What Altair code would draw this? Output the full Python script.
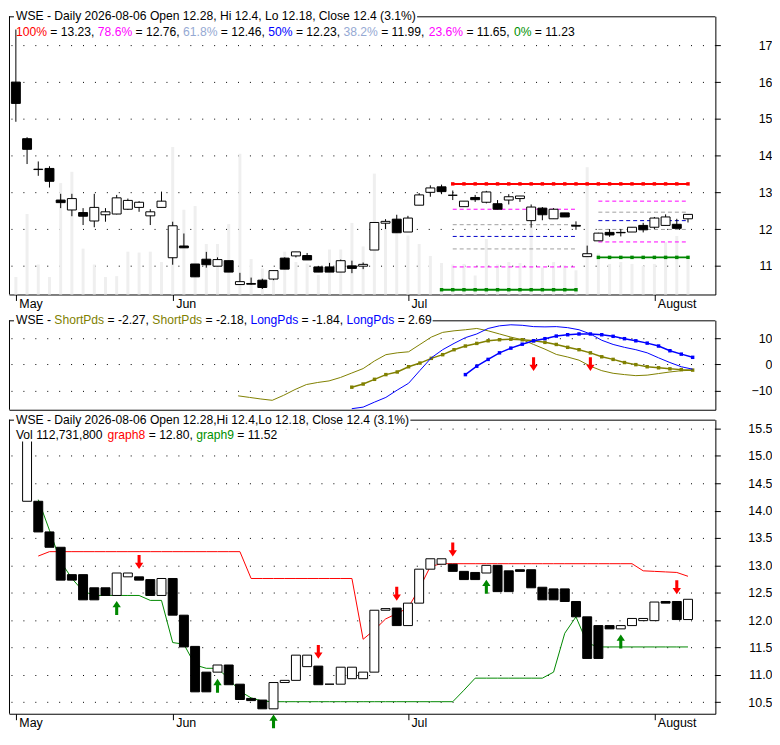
import altair as alt
import pandas as pd

# ------------------------------------------------------------------ data
bar_index = list(range(61))
month_tick_bars = [0, 14, 35, 57]
month_names = ["May", "Jun", "Jul", "August"]

price_open = [16.00, 14.46, 13.63, 13.65, 12.79, 12.52, 12.45, 12.22, 12.39, 12.41,
              12.54, 12.59, 12.36, 12.59, 11.22, 11.54, 11.05, 11.18, 10.99, 11.14,
              10.49, 10.52, 10.61, 10.64, 11.21, 11.27, 11.28, 10.97, 10.97, 10.83,
              11.00, 10.99, 11.43, 12.16, 12.27, 11.92, 12.65, 13.00, 13.15, 12.92,
              12.61, 12.86, 12.73, 12.69, 12.79, 12.83, 12.23, 12.57, 12.28, 12.44,
              12.10, 11.25, 11.68, 11.91, 11.91, 11.92, 12.10, 12.05, 12.10, 12.13,
              12.28]
price_high = [17.43, 14.50, 13.84, 13.71, 12.96, 12.96, 12.57, 12.96, 12.57, 12.93,
              12.83, 12.76, 12.54, 13.02, 12.20, 11.88, 11.05, 11.38, 11.23, 11.14,
              10.81, 10.68, 10.65, 10.87, 11.23, 11.38, 11.35, 11.00, 11.08, 11.17,
              11.14, 11.09, 12.18, 12.27, 12.39, 12.36, 12.98, 13.19, 13.21, 13.05,
              12.76, 12.93, 13.04, 12.79, 12.95, 12.90, 12.67, 12.60, 12.57, 12.44,
              12.21, 11.55, 11.90, 12.00, 12.00, 12.05, 12.17, 12.33, 12.40, 12.28,
              12.40]
price_low = [14.92, 13.77, 13.45, 13.13, 12.57, 12.35, 12.11, 12.05, 12.20, 12.40,
             12.52, 12.47, 12.11, 12.59, 11.03, 11.49, 10.70, 10.95, 10.99, 10.83,
             10.49, 10.49, 10.37, 10.61, 10.91, 11.23, 11.16, 10.83, 10.83, 10.83,
             10.80, 10.91, 11.43, 12.00, 11.90, 11.92, 12.65, 12.88, 12.95, 12.79,
             12.61, 12.74, 12.70, 12.54, 12.67, 12.74, 12.04, 12.24, 12.28, 12.33,
             11.98, 11.25, 11.68, 11.79, 11.80, 11.92, 11.91, 12.00, 12.10, 12.02,
             12.18]
price_close = [15.42, 14.17, 13.62, 13.30, 12.72, 12.83, 12.35, 12.59, 12.47, 12.85,
               12.78, 12.73, 12.47, 12.76, 12.09, 11.49, 10.70, 11.03, 11.17, 10.83,
               10.57, 10.50, 10.41, 10.87, 10.91, 11.38, 11.16, 10.83, 10.83, 11.14,
               10.93, 11.04, 12.18, 12.21, 11.90, 12.30, 12.93, 13.12, 13.02, 12.92,
               12.76, 12.80, 13.01, 12.54, 12.88, 12.90, 12.60, 12.39, 12.54, 12.33,
               12.08, 11.33, 11.89, 11.84, 11.90, 12.05, 11.98, 12.30, 12.33, 12.02,
               12.40]
volume_m = [57, 263, 98, 57, 364, 401, 150, 98, 57, 60,
            140, 137, 140, 106, 482, 277, 289, 165, 165, 230,
            460, 116, 85, 47, 140, 106, 101, 64, 147, 147,
            234, 157, 395, 233, 202, 193, 165, 126, 103, 98,
            100, 62, 181, 98, 106, 103, 222, 88, 106, 96,
            79, 416, 134, 100, 106, 100, 93, 100, 171, 191,
            112.73]

fib_pcts = ["78.6%", "61.8%", "50%", "38.2%", "23.6%"]
fib_first_levels = [12.54, 12.12, 11.80, 11.46, 10.97]
fib_second_levels = [12.76, 12.46, 12.23, 11.99, 11.65]
fib_first_span = [39, 50]
fib_second_span = [52, 60]
fib_top_level = 13.23
fib_top_span = [39, 60]
fib_bottom_levels = [10.35, 11.23]
fib_bottom_spans = [[38, 50], [52, 60]]

osc_short_a = [None] * 20 + [
    -12.0, -12.6, -13.2, -13.7, -11.8, -9.6, -7.7, -6.9, -6.3, -5.0,
    -3.3, -1.6, 1.3, 3.7, 4.4, 4.8, 7.6, 10.4, 12.2, 12.8,
    13.2, 13.7, 12.8, 11.6, 10.4, 9.4, 7.6, 5.8, 3.8, 2.8,
    1.6, -0.7, -2.4, -3.4, -3.9, -4.3, -4.1, -3.5, -2.9, -2.4,
    -2.27]
osc_short_b = [None] * 30 + [
    -8.7, -7.5, -5.7, -3.9, -2.9, -0.9, 0.5, 2.3, 3.7, 5.6,
    7.0, 8.0, 9.0, 9.4, 9.6, 9.4, 9.0, 8.4, 7.6, 6.5,
    5.6, 4.4, 2.9, 1.9, 0.7, -0.1, -0.9, -1.3, -1.7, -2.0,
    -2.18]
osc_long_a = [None] * 30 + [
    -16.9, -16.3, -14.4, -12.6, -9.8, -7.2, -2.3, 2.5, 5.6, 8.0,
    10.2, 11.6, 13.7, 14.7, 15.1, 14.9, 14.4, 14.3, 14.4, 14.0,
    13.2, 11.6, 9.2, 7.6, 6.5, 5.6, 4.4, 2.5, 0.7, -0.9,
    -1.84]
osc_long_b = [None] * 40 + [
    -3.9, -0.7, 1.9, 4.4, 6.2, 7.7, 9.0, 9.8, 10.8, 11.3,
    11.6, 11.6, 11.3, 10.7, 9.8, 9.0, 8.1, 7.0, 5.2, 3.9,
    2.69]
osc_sell_bars = [46, 51]
osc_sell_marks = [0.1, 0.1]

box_top = [None, 15.42, 14.17, 13.61, 13.33, 12.83, 12.83, 12.59, 12.59, 12.86, 12.86,
           12.79, 12.74, 12.76, 12.76, 12.09, 11.52, 11.05, 11.18, 11.18, 10.83,
           10.57, 10.54, 10.86, 10.90, 11.36, 11.36, 11.16, 10.83, 11.14, 11.14,
           11.05, 12.18, 12.21, 12.22, 12.31, 12.93, 13.12, 13.12, 13.02, 12.89,
           12.87, 13.00, 13.00, 12.90, 12.92, 12.92, 12.60, 12.57, 12.57, 12.34,
           12.06, 11.90, 11.90, 11.90, 12.03, 12.03, 12.33, 12.34, 12.34, 12.38]
box_bottom = [None, 14.17, 13.61, 13.33, 12.73, 12.73, 12.37, 12.37, 12.45, 12.45, 12.79,
              12.73, 12.45, 12.45, 12.09, 11.51, 10.69, 10.69, 11.05, 10.82, 10.55,
              10.53, 10.38, 10.38, 10.86, 10.90, 11.15, 10.82, 10.83, 10.83, 10.93,
              10.93, 11.05, 12.18, 11.90, 11.90, 12.31, 12.93, 13.02, 12.89, 12.74,
              12.74, 12.86, 12.52, 12.52, 12.89, 12.59, 12.37, 12.37, 12.34, 12.06,
              11.30, 11.30, 11.84, 11.84, 11.90, 11.99, 11.99, 12.31, 12.01, 12.01]
box_hollow = [None, 1, 0, 0, 0, 0, 0, 0, 0, 1, 1,
              0, 0, 1, 0, 0, 0, 0, 1, 0, 0,
              0, 0, 1, 1, 1, 1, 0, 0, 1, 1,
              1, 1, 1, 0, 1, 1, 1, 1, 0, 0,
              0, 1, 0, 0, 0, 0, 0, 0, 0, 0,
              0, 0, 0, 1, 1, 1, 1, 0, 0, 1]
graph8 = [None, None, 13.17, 13.25, 13.25, 13.25, 13.25, 13.25, 13.25, 13.25,
          13.25, 13.25, 13.25, 13.25, 13.25, 13.25, 13.25, 13.25, 13.25, 13.25,
          13.25, 12.76, 12.76, 12.76, 12.76, 12.76, 12.76, 12.76, 12.76, 12.76,
          12.76, 11.65, 11.82, 12.02, 12.12, 12.22, 12.57, 12.98, 13.03, 13.03,
          13.03, 13.03, 13.03, 13.03, 13.03, 13.03, 13.03, 13.03, 13.03, 13.03,
          13.03, 13.03, 13.03, 13.03, 13.03, 13.03, 12.90, 12.89, 12.88, 12.87,
          12.80]
graph9 = [None, None, 14.20, 13.64, 13.07, 12.76, 12.53, 12.45, 12.45, 12.45,
          12.45, 12.45, 12.36, 12.36, 11.59, 11.56, 11.18, 11.12, 11.12, 10.93,
          10.70, 10.58, 10.52, 10.51, 10.51, 10.51, 10.51, 10.51, 10.51, 10.51,
          10.51, 10.51, 10.51, 10.51, 10.51, 10.51, 10.51, 10.51, 10.51, 10.51,
          10.72, 10.94, 10.94, 10.94, 10.94, 10.94, 10.94, 10.94, 11.05, 11.76,
          12.06, 11.58, 11.51, 11.51, 11.51, 11.51, 11.51, 11.51, 11.51, 11.51,
          11.51]
sell_bars = [11, 27, 34, 39, 59]
sell_marks = [13.06, 11.42, 12.48, 13.29, 12.60]
buy_bars = [9, 18, 23, 42, 54]
buy_marks = [12.22, 10.80, 10.15, 12.61, 11.61]

top_title = "WSE - Daily 2026-08-06 Open 12.28, Hi 12.4, Lo 12.18, Close 12.4 (3.1%)"
fib_title = [("100%", "red"), (" = 13.23, ", "plain"), ("78.6%", "magenta"), (" = 12.76, ", "plain"),
             ("61.8%", "pale"), (" = 12.46, ", "plain"), ("50%", "blue"), (" = 12.23, ", "plain"),
             ("38.2%", "pale"), (" = 11.99, ", "plain"), ("23.6%", "magenta"), (" = 11.65, ", "plain"),
             ("0%", "green"), (" = 11.23", "plain")]
osc_title = [("WSE - ", "plain"), ("ShortPds", "olive"), (" = -2.27, ", "plain"), ("ShortPds", "olive"),
             (" = -2.18, ", "plain"), ("LongPds", "blue"), (" = -1.84, ", "plain"), ("LongPds", "blue"),
             (" = 2.69", "plain")]
bottom_title = "WSE - Daily 2026-08-06 Open 12.28,Hi 12.4,Lo 12.18, Close 12.4 (3.1%)"
bottom_title2 = [("Vol 112,731,800 ", "plain"), ("graph8", "red"), (" = 12.80, ", "plain"),
                 ("graph9", "green"), (" = 11.52", "plain")]

# ------------------------------------------------------------------ style
FONT = "Liberation Sans"
TXT = 12.2
W = 711
H_TOP, H_MID, H_BOT = 280, 90, 296
ROLE_COLORS = {"plain": "#000000", "red": "#ff0000", "magenta": "#ff00ff", "pale": "#95a9d3",
               "blue": "#0000ff", "green": "#009000", "olive": "#808000"}
FIB_LINE_COLORS = {"78.6%": "#ff00ff", "61.8%": "#a0a0a0", "50%": "#0000c8",
                   "38.2%": "#a0a0a0", "23.6%": "#ff00ff"}
GREEN = "#008800"
DOWN_ARROW = "M-0.22,-1L0.22,-1L0.22,0.1L0.6,0.1L0,1L-0.6,0.1L-0.22,0.1Z"
UP_ARROW = "M-0.22,1L0.22,1L0.22,-0.1L0.6,-0.1L0,-1L-0.6,-0.1L-0.22,-0.1Z"

ARIAL = {" ": 278, "-": 333, ".": 278, ",": 278, "%": 889, "=": 584, "(": 333, ")": 333,
         "W": 944, "S": 667, "E": 667, "D": 722, "O": 778, "H": 722, "L": 556, "C": 722,
         "P": 667, "V": 667, "a": 556, "i": 222, "l": 222, "y": 500, "p": 556, "e": 556,
         "n": 556, "o": 556, "s": 500, "h": 556, "r": 333, "t": 278, "d": 556, "g": 556}
for _c in "0123456789":
    ARIAL[_c] = 556


def text_width(s):
    return sum(ARIAL.get(c, 556) for c in s) * TXT / 1000.0


ONE = pd.DataFrame({"k": [0]})
X_SCALE = alt.Scale(domain=[-0.17, 62.0], nice=False, zero=False)

month_expr = " : ".join(f"datum.value == {b} ? '{n}'" for b, n in zip(month_tick_bars, month_names)) + " : ''"
month_axis = alt.Axis(values=month_tick_bars, labelExpr=month_expr, title=None, grid=False,
                      domain=True, domainColor="black", ticks=True, tickColor="black", tickSize=6,
                      labelAlign="left", labelOffset=3, labelPadding=-3, labelFontSize=12.5,
                      labelFont=FONT, labelColor="black", labelFlush=False, labelOverlap=False)
plain_x_axis = alt.Axis(labels=False, ticks=False, grid=False, domain=True, domainColor="black", title=None)


def y_axis(values, fmt=None):
    kw = dict(values=values, orient="right", title=None, grid=True, gridColor="black",
              gridDash=[1, 11], gridWidth=1, domain=True, domainColor="black", ticks=True,
              tickColor="black", tickSize=5, labelAlign="right", labelPadding=52,
              labelFontSize=12.5, labelFont=FONT, labelColor="black", labelFlush=False,
              labelOverlap=False)
    if fmt:
        kw["format"] = fmt
    return alt.Axis(**kw)


def xq(field, axis):
    return alt.X(f"{field}:Q", scale=X_SCALE, axis=axis)


def text_layers(parts, y_px, x0=7.0):
    rows, cur = [], x0
    for txt, role in parts:
        core = txt.strip(" ")
        lead = len(txt) - len(txt.lstrip(" "))
        rows.append({"px": cur + text_width(" " * lead), "txt": core, "role": role})
        cur += text_width(txt)
    df = pd.DataFrame(rows)
    layers = []
    for role, sub in df.groupby("role"):
        layers.append(alt.Chart(sub).mark_text(align="left", baseline="middle", font=FONT,
                                               fontSize=TXT, color=ROLE_COLORS[role]).encode(
            x=alt.X("px:Q", scale=None, axis=None), y=alt.value(y_px), text="txt:N"))
    return layers, cur


def frame(height, title_end):
    left = alt.Chart(ONE).mark_rule(color="black", strokeWidth=1).encode(
        x=alt.value(0.5), y=alt.value(0), y2=alt.value(height))
    corner = alt.Chart(ONE).mark_rule(color="black", strokeWidth=1).encode(
        x=alt.value(0), x2=alt.value(5), y=alt.value(0.5))
    rest = alt.Chart(ONE).mark_rule(color="black", strokeWidth=1).encode(
        x=alt.value(title_end + 1), x2=alt.value(W), y=alt.value(0.5))
    return [left, corner, rest]


# ------------------------------------------------------------------ top panel
candles = pd.DataFrame({"bar": bar_index, "open": price_open, "high": price_high,
                        "low": price_low, "close": price_close, "volume": volume_m})
Y_TOP = alt.Scale(domain=[10.22, 17.79], nice=False, zero=False)
ax_top = y_axis([11, 12, 13, 14, 15, 16, 17])

volume = alt.Chart(candles).mark_bar(size=3, color="#efefef").encode(
    x=xq("bar", month_axis),
    y=alt.Y("volume:Q", scale=alt.Scale(domain=[0, 909], nice=False), axis=None))

price_layers = []
for pct, lv1, lv2 in zip(fib_pcts, fib_first_levels, fib_second_levels):
    seg = pd.DataFrame({"start": [fib_first_span[0], fib_second_span[0]],
                        "end": [fib_first_span[1], fib_second_span[1]],
                        "level": [lv1, lv2]})
    price_layers.append(alt.Chart(seg).mark_rule(color=FIB_LINE_COLORS[pct], strokeWidth=1,
                                                 strokeDash=[4, 3]).encode(
        x=xq("start", month_axis), x2="end:Q",
        y=alt.Y("level:Q", scale=Y_TOP, axis=ax_top)))

top_line = pd.DataFrame({"bar": list(range(fib_top_span[0], fib_top_span[1] + 1))})
top_line["level"] = fib_top_level
low_rows = []
for i, (lv, span) in enumerate(zip(fib_bottom_levels, fib_bottom_spans)):
    for b in range(span[0], span[1] + 1):
        low_rows.append({"bar": b, "level": lv, "seg": i})
low_line = pd.DataFrame(low_rows)

for df, col in [(top_line, "#ff0000"), (low_line, GREEN)]:
    enc = dict(x=xq("bar", month_axis), y=alt.Y("level:Q", scale=Y_TOP, axis=ax_top))
    if "seg" in df:
        enc["detail"] = "seg:N"
    price_layers.append(alt.Chart(df).mark_line(color=col, strokeWidth=2).encode(**enc))
    price_layers.append(alt.Chart(df).mark_square(color=col, size=12, opacity=1).encode(**enc))

price_layers.append(alt.Chart(candles).mark_rule(color="black", strokeWidth=1).encode(
    x=xq("bar", month_axis), y=alt.Y("low:Q", scale=Y_TOP, axis=ax_top), y2="high:Q"))
price_layers.append(alt.Chart(candles).mark_bar(size=9, stroke="black", strokeWidth=1).encode(
    x=xq("bar", month_axis), y=alt.Y("open:Q", scale=Y_TOP, axis=ax_top), y2="close:Q",
    fill=alt.condition("datum.close > datum.open", alt.value("white"), alt.value("black"))))

t1, end1 = text_layers([(top_title, "plain")], 0)
t2, _ = text_layers(fib_title, 15.5)
top_panel = alt.layer(volume, alt.layer(*price_layers), *frame(H_TOP, end1), *t1, *t2).resolve_scale(
    y="independent").properties(width=W, height=H_TOP)

# ------------------------------------------------------------------ middle panel
Y_MID = alt.Scale(domain=[-17.3, 16.8], nice=False, zero=False)
ax_mid = y_axis([-10, 0, 10])
mid_layers = []
for series, col, with_marks in [(osc_short_a, "#808000", False), (osc_short_b, "#808000", True),
                                (osc_long_a, "#0000ff", False), (osc_long_b, "#0000ff", True)]:
    df = pd.DataFrame({"bar": bar_index, "v": series}).dropna()
    enc = dict(x=xq("bar", plain_x_axis), y=alt.Y("v:Q", scale=Y_MID, axis=ax_mid))
    mid_layers.append(alt.Chart(df).mark_line(color=col, strokeWidth=1.5 if with_marks else 1).encode(**enc))
    if with_marks:
        mid_layers.append(alt.Chart(df).mark_square(color=col, size=12, opacity=1).encode(**enc))
osc_arrows = pd.DataFrame({"bar": osc_sell_bars, "v": osc_sell_marks})
mid_layers.append(alt.Chart(osc_arrows).mark_point(shape=DOWN_ARROW, size=196, filled=True,
                                                   color="#ff0000", opacity=1).encode(
    x=xq("bar", plain_x_axis), y=alt.Y("v:Q", scale=Y_MID, axis=ax_mid)))
tm, endm = text_layers(osc_title, 0)
mid_panel = alt.layer(*mid_layers, *frame(H_MID, endm), *tm).properties(width=W, height=H_MID)

# ------------------------------------------------------------------ bottom panel
Y_BOT = alt.Scale(domain=[10.29, 15.66], nice=False, zero=False)
ax_bot = y_axis([10.5, 11.0, 11.5, 12.0, 12.5, 13.0, 13.5, 14.0, 14.5, 15.0, 15.5], ".1f")
bot_layers = []
for series, col in [(graph8, "#ff0000"), (graph9, GREEN)]:
    df = pd.DataFrame({"bar": bar_index, "v": series}).dropna()
    bot_layers.append(alt.Chart(df).mark_line(color=col, strokeWidth=1).encode(
        x=xq("bar", month_axis), y=alt.Y("v:Q", scale=Y_BOT, axis=ax_bot)))
boxes = pd.DataFrame({"bar": bar_index, "top": box_top, "bottom": box_bottom,
                      "hollow": box_hollow}).dropna()
bot_layers.append(alt.Chart(boxes).mark_bar(size=9, stroke="black", strokeWidth=1).encode(
    x=xq("bar", month_axis), y=alt.Y("top:Q", scale=Y_BOT, axis=ax_bot), y2="bottom:Q",
    fill=alt.condition("datum.hollow == 1", alt.value("white"), alt.value("black"))))
for bars_, marks_, shape, col in [(sell_bars, sell_marks, DOWN_ARROW, "#ff0000"),
                                  (buy_bars, buy_marks, UP_ARROW, GREEN)]:
    df = pd.DataFrame({"bar": bars_, "v": marks_})
    bot_layers.append(alt.Chart(df).mark_point(shape=shape, size=196, filled=True, color=col,
                                               opacity=1).encode(
        x=xq("bar", month_axis), y=alt.Y("v:Q", scale=Y_BOT, axis=ax_bot)))
tb1, endb1 = text_layers([(bottom_title, "plain")], 0)
tb2, endb2 = text_layers(bottom_title2, 15.0)
masks = [
    alt.Chart(ONE).mark_rect(color="white").encode(
        x=alt.value(1), x2=alt.value(endb1 + 1), y=alt.value(1.5), y2=alt.value(10)),
    alt.Chart(ONE).mark_rect(color="white").encode(
        x=alt.value(1), x2=alt.value(endb2 + 1), y=alt.value(9), y2=alt.value(22)),
]
bot_panel = alt.layer(*bot_layers, *masks, *frame(H_BOT, endb1), *tb1, *tb2).properties(
    width=W, height=H_BOT)

chart = alt.vconcat(alt.vconcat(top_panel, mid_panel, spacing=4), bot_panel, spacing=3).properties(
    padding=0, background="white").configure_view(stroke=None)

chart.save("out.html", embed_options={"renderer": "svg", "actions": False})
